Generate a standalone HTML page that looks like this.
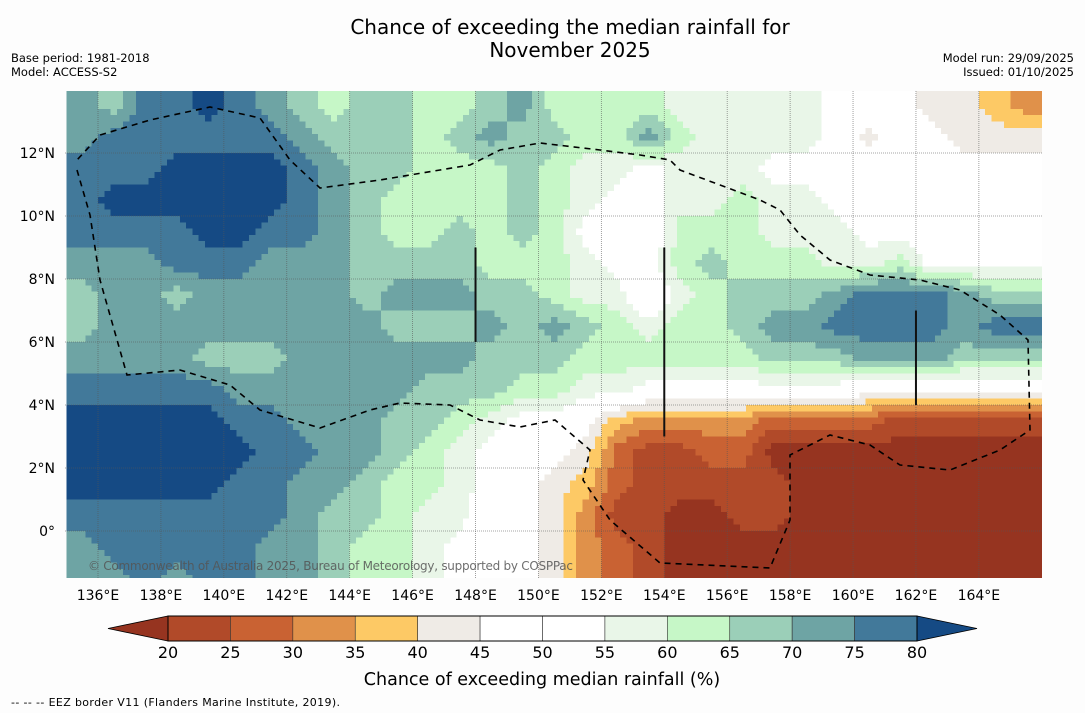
<!DOCTYPE html>
<html><head><meta charset="utf-8">
<style>
html,body{margin:0;padding:0;background:#fdfdfd;}
body{width:1085px;height:713px;overflow:hidden;position:relative;font-family:"DejaVu Sans","Liberation Sans",sans-serif;}
svg{position:absolute;left:0;top:0;}
</style></head>
<body>
<svg id="chart" width="1085" height="713" viewBox="0 0 1085 713">
<defs><clipPath id="plotclip"><rect x="65" y="91" width="977" height="487"/></clipPath></defs>
<rect x="0" y="0" width="1085" height="713" fill="#fdfdfd"/>
<text x="570" y="34" text-anchor="middle" font-size="20" fill="#000">Chance of exceeding the median rainfall for</text>
<text x="570" y="57" text-anchor="middle" font-size="20" fill="#000">November 2025</text>
<text x="11" y="62" font-size="11.5">Base period: 1981-2018</text>
<text x="11" y="76" font-size="11.5">Model: ACCESS-S2</text>
<text x="1074" y="62" font-size="11.5" text-anchor="end">Model run: 29/09/2025</text>
<text x="1074" y="76" font-size="11.5" text-anchor="end">Issued: 01/10/2025</text>
<g id="cells" clip-path="url(#plotclip)" shape-rendering="crispEdges"></g>
<g id="grid" clip-path="url(#plotclip)"></g>
<g id="overlay" clip-path="url(#plotclip)"></g>
<g id="axes"></g>
<g id="cbar"></g>
<text x="542" y="685" text-anchor="middle" font-size="17.5">Chance of exceeding median rainfall (%)</text>
<text x="11" y="706" font-size="11" textLength="329">--  --  -- EEZ border V11 (Flanders Marine Institute, 2019).</text>
</svg>
<script>
// ---- data ----
const lons = [135.5,136.5,137.5,138.5,139.5,140.5,141.5,142.5,143.5,144.5,145.5,146.5,147.5,148.5,149.5,150.5,151.5,152.5,153.5,154.5,155.5,156.5,157.5,158.5,159.5,160.5,161.5,162.5,163.5,164.5,165.5];
const lats = [13.5,12.5,11.5,10.5,9.5,8.5,7.5,6.5,5.5,4.5,3.5,2.5,1.5,0.5,-0.5,-1.5];
const probRows = [
[70,65,75,75,80,75,70,65,60,65,65,60,60,65,70,60,60,60,60,55,55,55,55,55,50,50,45,40,40,35,30],
[70,75,75,75,75,75,75,70,65,65,65,60,65,70,65,65,60,60,70,60,55,55,55,55,50,40,50,45,40,40,40],
[75,75,75,80,80,80,80,75,70,65,65,60,60,60,65,60,55,55,50,55,55,55,50,50,50,50,45,45,45,45,45],
[75,80,80,80,80,80,80,75,70,65,60,60,60,60,65,60,55,50,50,55,55,60,55,55,50,50,50,50,45,45,45],
[75,75,75,75,80,80,75,75,70,65,60,60,65,60,65,60,50,50,45,60,60,60,55,55,55,50,50,50,50,45,45],
[70,70,70,75,75,75,70,70,70,65,65,65,65,60,60,60,55,50,50,60,65,60,60,60,55,55,60,50,50,50,50],
[65,70,70,65,70,70,70,70,70,65,70,70,70,65,65,60,55,55,45,55,60,65,65,65,70,75,75,75,70,65,65],
[65,70,70,70,70,70,70,70,70,70,65,65,65,70,65,70,65,60,55,60,60,65,70,70,75,75,75,75,70,75,75],
[70,70,70,70,65,65,65,70,70,70,70,70,70,65,65,65,60,60,60,60,60,60,65,65,65,70,70,70,65,65,65],
[75,75,75,75,75,70,70,70,70,70,70,65,65,65,60,60,55,55,50,50,50,50,50,50,50,45,45,45,45,45,45],
[80,80,80,80,80,75,75,70,70,70,65,65,60,55,50,50,45,35,30,30,30,30,25,25,25,25,20,20,20,20,20],
[80,80,80,80,80,80,75,75,70,70,65,60,55,50,45,45,40,25,20,20,25,25,15,15,15,15,15,15,15,15,15],
[80,80,80,80,80,75,75,70,70,65,60,60,55,50,45,40,35,25,20,20,20,20,20,15,15,15,15,15,15,15,15],
[75,75,75,75,75,75,75,70,65,65,60,55,55,45,45,40,30,20,20,15,15,20,20,15,15,15,15,15,15,15,15],
[70,75,75,75,75,75,70,70,65,60,60,55,50,45,45,40,30,25,20,15,15,15,15,15,15,15,15,15,15,15,15],
[70,70,75,70,75,75,70,70,65,60,60,55,50,50,45,40,30,25,20,15,15,15,15,15,15,15,15,15,15,15,15]
];
const lonTicks = [136,138,140,142,144,146,148,150,152,154,156,158,160,162,164];
const latTicks = [12,10,8,6,4,2,0];
const binEdges = [20,25,30,35,40,45,50,55,60,65,70,75,80];
const binColors = ["#963420","#b14a29","#c96233","#e0914a","#fdc965","#efebe6","#ffffff","#ffffff","#e9f6e8","#c6f7c7","#9bcfb8","#6ea4a4","#42799a","#154a84"];

// ---- axes ----
const xS = lon => 98 + (lon-136)*31.46;
const yS = lat => 531 - lat*31.5;
const NS="http://www.w3.org/2000/svg";
function mk(tag, attrs, parent){const e=document.createElementNS(NS,tag);for(const k in attrs)e.setAttribute(k,attrs[k]);parent.appendChild(e);return e;}
function colorFor(v){let i=0;while(i<binEdges.length && v>=binEdges[i])i++;return binColors[i];}

// ---- heatmap with bilinear refinement ----
const cells=document.getElementById('cells');
const nR=lats.length,nC=lons.length,sub=5;
function val(r,c){r=Math.max(0,Math.min(nR-1,r));c=Math.max(0,Math.min(nC-1,c));return probRows[r][c]+2.5;}
function interp(fr,fc){const r0=Math.floor(fr),c0=Math.floor(fc),tr=fr-r0,tc=fc-c0;
 return val(r0,c0)*(1-tr)*(1-tc)+val(r0,c0+1)*(1-tr)*tc+val(r0+1,c0)*tr*(1-tc)+val(r0+1,c0+1)*tr*tc;}
for(let r=0;r<nR;r++){for(let c=0;c<nC;c++){
 const x0=xS(lons[c]-0.5),x1=xS(lons[c]+0.5),y0=yS(lats[r]+0.5),y1=yS(lats[r]-0.5);
 for(let a=0;a<sub;a++)for(let b=0;b<sub;b++){
  const fr=r-0.5+(a+0.5)/sub,fc=c-0.5+(b+0.5)/sub;
  const rect=mk('rect',{x:(x0+(x1-x0)*b/sub).toFixed(2),y:(y0+(y1-y0)*a/sub).toFixed(2),width:((x1-x0)/sub+0.6).toFixed(2),height:((y1-y0)/sub+0.6).toFixed(2),fill:colorFor(interp(fr,fc))},cells);
  
  
 }}}

// ---- grid ----
const grid=document.getElementById('grid');
lonTicks.forEach(l=>{const ln=mk('line',{x1:xS(l),x2:xS(l),y1:91,y2:578,stroke:'#555','stroke-width':0.8,'stroke-dasharray':'1,1','stroke-opacity':0.7},grid);
 });
latTicks.forEach(l=>{const ln=mk('line',{x1:65,x2:1042,y1:yS(l),y2:yS(l),stroke:'#555','stroke-width':0.8,'stroke-dasharray':'1,1','stroke-opacity':0.7},grid);
 });

// ---- overlay ----
const ov=document.getElementById('overlay');
const eez="M77,170 L90,215 L100,280 L127,375 L180,370 L230,385 L260,410 L320,428 L370,410 L400,403 L450,405 L480,420 L520,427 L555,420 L590,450 L583,480 L610,520 L660,563 L770,568 L790,520 L790,455 L830,435 L870,445 L900,465 L950,470 L1000,450 L1030,430 L1028,340 L1000,315 L960,290 L920,280 L870,275 L830,260 L800,235 L780,210 L760,200 L720,185 L680,170 L670,160 L640,155 L600,150 L540,143 L500,150 L470,165 L440,170 L380,180 L320,188 L290,160 L260,118 L210,107 L150,120 L100,135 L77,160";
const p=mk('path',{d:eez,fill:'none',stroke:'#000','stroke-width':1.6,'stroke-dasharray':'6,5'},ov);

[[148,9,6],[154,9,3],[162,7,4]].forEach(v=>{const ln=mk('line',{x1:xS(v[0]),x2:xS(v[0]),y1:yS(v[1]),y2:yS(v[2]),stroke:'#111','stroke-width':2},ov);
 });
const cp=mk('text',{x:88,y:570,'font-size':12,fill:'#555','fill-opacity':0.85,textLength:485},ov);cp.textContent='© Commonwealth of Australia 2025, Bureau of Meteorology, supported by COSPPac';


// ---- axis labels ----
const ax=document.getElementById('axes');
lonTicks.forEach(l=>{const t=mk('text',{x:xS(l),y:600,'text-anchor':'middle','font-size':14},ax);t.textContent=l+'°E';
 });
latTicks.forEach(l=>{const t=mk('text',{x:55,y:yS(l)+5,'text-anchor':'end','font-size':14},ax);t.textContent=l===0?'0°':l+'°N';
 });

// ---- colorbar ----
const cb=document.getElementById('cbar');
const bx0=168,bw=(917-168)/12,by=616,bh=25;
const lt=mk('polygon',{points:`${bx0},${by} ${bx0},${by+bh} 108,${by+bh/2}`,fill:binColors[0],stroke:'#000','stroke-width':0.8},cb);

for(let i=0;i<12;i++){const r=mk('rect',{x:bx0+i*bw,y:by,width:bw,height:bh,fill:binColors[i+1],stroke:'#333','stroke-width':0.6},cb);
 }
const rt=mk('polygon',{points:`917,${by} 917,${by+bh} 977,${by+bh/2}`,fill:binColors[13],stroke:'#000','stroke-width':0.8},cb);

const ob=mk('rect',{x:bx0,y:by,width:917-168,height:bh,fill:'none',stroke:'#000','stroke-width':1},cb);

binEdges.forEach((e,i)=>{const t=mk('text',{x:bx0+i*bw,y:658,'text-anchor':'middle','font-size':16},cb);t.textContent=e;
 });
</script>
</body></html>
